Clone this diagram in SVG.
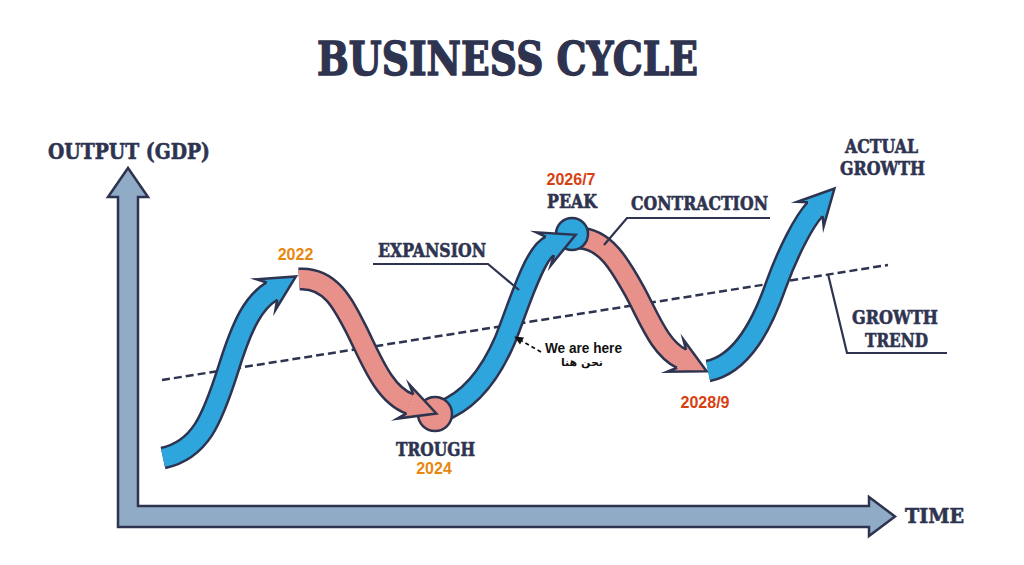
<svg xmlns="http://www.w3.org/2000/svg" width="1024" height="565" viewBox="0 0 1024 565">
<style>
.lbl{font-family:"DejaVu Serif","Liberation Serif",serif;font-weight:bold;fill:#2e3350;stroke:#2e3350;stroke-width:0.6}
.ttl{stroke-width:1.4}
.yr{font-family:"Liberation Sans",Arial,sans-serif;font-weight:bold;font-size:16px}
.orange{fill:#e8870e}
.red{fill:#d9400f}
.outer{fill:none;stroke:#2e3350;stroke-width:23;stroke-linecap:butt}
.blue{fill:none;stroke:#2ea6dd;stroke-width:18;stroke-linecap:butt}
.pink{fill:none;stroke:#e8918a;stroke-width:18;stroke-linecap:butt}
.leader{fill:none;stroke:#2e3350;stroke-width:2.2}
</style>
<defs>
<marker id="ahBlue" markerUnits="userSpaceOnUse" orient="auto" overflow="visible" markerWidth="1" markerHeight="1" refX="0" refY="0">
<path d="M0,-10 L-7,-18 L28,0 L-7,18 L0,10 Z" fill="#2ea6dd"/>
<path d="M0,-10 L-7,-18 L28,0 L-7,18 L0,10" fill="none" stroke="#2e3350" stroke-width="2.5" stroke-miterlimit="10"/>
</marker>
<marker id="ahPink" markerUnits="userSpaceOnUse" orient="auto" overflow="visible" markerWidth="1" markerHeight="1" refX="0" refY="0">
<path d="M0,-10 L-7,-18 L28,0 L-7,18 L0,10 Z" fill="#e8918a"/>
<path d="M0,-10 L-7,-18 L28,0 L-7,18 L0,10" fill="none" stroke="#2e3350" stroke-width="2.5" stroke-miterlimit="10"/>
</marker>
<marker id="ahSmall" markerUnits="userSpaceOnUse" orient="auto" overflow="visible" markerWidth="1" markerHeight="1" refX="0" refY="0">
<path d="M0,-4 L9,0 L0,4 Z" fill="#111"/>
</marker>
</defs>
<rect width="1024" height="565" fill="#ffffff"/>

<g id="title">
<text class="lbl ttl" x="317" y="75" font-size="46" textLength="381" lengthAdjust="spacingAndGlyphs">BUSINESS CYCLE</text>
</g>

<g id="axes">
<path d="M118,527 L118,197 L108,197 L128,168 L148,197 L138,197 L138,506 L869,506 L869,497 L895,516.5 L869,536 L869,527 Z" fill="#8fabc6" stroke="#2e3350" stroke-width="2.5" stroke-linejoin="miter"/>
<text class="lbl" x="48" y="159" font-size="22" textLength="162" lengthAdjust="spacingAndGlyphs">OUTPUT (GDP)</text>
<text class="lbl" x="905" y="523" font-size="20" textLength="59" lengthAdjust="spacingAndGlyphs">TIME</text>
</g>

<g id="growth-trend">
<line x1="162" y1="380" x2="888" y2="265" stroke="#2e3350" stroke-width="2.5" stroke-dasharray="8,4"/>
</g>

<g id="connectors">
<path class="outer" d="M578,238 C605,238 620,265 635,292 C650,320 660,348 681.6,358.8"/>
<path class="pink" d="M578,238 C605,238 620,265 635,292 C650,320 660,348 681.6,358.8" marker-end="url(#ahPink)"/>
<circle cx="572" cy="234" r="16" fill="#2ea6dd" stroke="#2e3350" stroke-width="2.5"/>
<path class="outer" d="M440,412 C468,402 490,375 505,340 C518,308 534,253 550,246"/>
<path class="blue" d="M440,412 C468,402 490,375 505,340 C518,308 534,253 550,246" marker-end="url(#ahBlue)"/>
<circle cx="435" cy="414" r="17" fill="#e8918a" stroke="#2e3350" stroke-width="2.5"/>
<path class="outer" d="M299,279 C330,277 343,303 358,333 C372,362 385,395 410,404"/>
<path class="pink" d="M299,279 C330,277 343,303 358,333 C372,362 385,395 410,404" marker-end="url(#ahPink)"/>
<path class="outer" d="M163,458 C200,450 212,420 228,370 C243,322 254,302 272,291"/>
<path class="blue" d="M163,458 C200,450 212,420 228,370 C243,322 254,302 272,291" marker-end="url(#ahBlue)"/>
<path class="outer" d="M708,371 C742,364 762,325 776,285 C788,252 803.7,221.4 815.3,209"/>
<path class="blue" d="M708,371 C742,364 762,325 776,285 C788,252 803.7,221.4 815.3,209" marker-end="url(#ahBlue)"/>
<line x1="541" y1="352" x2="522" y2="341" stroke="#111" stroke-width="1.8" stroke-dasharray="4,3" marker-end="url(#ahSmall)"/>
</g>

<g id="label-expansion">
<text class="lbl" x="378" y="257" font-size="18" textLength="108" lengthAdjust="spacingAndGlyphs">EXPANSION</text>
<path class="leader" d="M373,264 L488,264 L519,290"/>
</g>

<g id="label-contraction">
<text class="lbl" x="631" y="210" font-size="18" textLength="137" lengthAdjust="spacingAndGlyphs">CONTRACTION</text>
<path class="leader" d="M770,218 L627,218 L604,245"/>
</g>

<g id="label-actual-growth">
<text class="lbl" x="845" y="153" font-size="18" textLength="73" lengthAdjust="spacingAndGlyphs">ACTUAL</text>
<text class="lbl" x="840" y="175" font-size="18" textLength="85" lengthAdjust="spacingAndGlyphs">GROWTH</text>
</g>

<g id="label-growth-trend">
<text class="lbl" x="852" y="324" font-size="18" textLength="86" lengthAdjust="spacingAndGlyphs">GROWTH</text>
<text class="lbl" x="865" y="347" font-size="18" textLength="63" lengthAdjust="spacingAndGlyphs">TREND</text>
<path class="leader" d="M828,274 L847,353 L947,353"/>
</g>

<g id="label-peak">
<text class="yr red" x="571" y="185" text-anchor="middle">2026/7</text>
<text class="lbl" x="547" y="208" font-size="18" textLength="50" lengthAdjust="spacingAndGlyphs">PEAK</text>
</g>

<g id="label-2022">
<text class="yr orange" x="295.5" y="260" text-anchor="middle">2022</text>
</g>

<g id="label-trough">
<text class="lbl" x="396" y="456" font-size="18" textLength="79" lengthAdjust="spacingAndGlyphs">TROUGH</text>
<text class="yr orange" x="434" y="474" text-anchor="middle">2024</text>
</g>

<g id="label-2028">
<text class="yr red" x="705" y="408" text-anchor="middle">2028/9</text>
</g>

<g id="label-we-are-here">
<text x="545" y="353" font-family="'Liberation Sans',Arial,sans-serif" font-weight="bold" font-size="14" fill="#111" textLength="77" lengthAdjust="spacingAndGlyphs">We are here</text>
<text x="582" y="366" font-family="'DejaVu Sans','Noto Sans',sans-serif" font-weight="bold" font-size="11" fill="#111" text-anchor="middle" direction="rtl">نحن هنا</text>
</g>
</svg>
